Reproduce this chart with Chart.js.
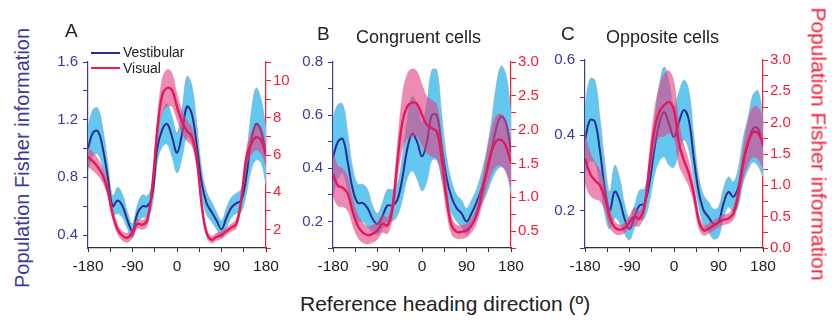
<!DOCTYPE html>
<html>
<head>
<meta charset="utf-8">
<script src="https://cdn.jsdelivr.net/npm/chart.js@4.4.1/dist/chart.umd.min.js"></script>
<style>
  body { margin: 0; width: 832px; height: 324px; overflow: hidden; position: relative; background: #fff;
         font-family: "Liberation Sans", Arial, sans-serif; }
  canvas { position: absolute; top: 0; }
  .t { position: absolute; white-space: nowrap; color: #222; }
  .lg { position: absolute; height: 2px; width: 29px; left: 91px; }
</style>
</head>
<body>
<canvas id="cA" width="268" height="290" style="left:43px"></canvas>
<canvas id="cB" width="268" height="290" style="left:288px"></canvas>
<canvas id="cC" width="268" height="290" style="left:540px"></canvas>

<div class="t" style="left:65px;top:21px;font-size:19px;line-height:19px">A</div>
<div class="t" style="left:317px;top:24px;font-size:19px;line-height:19px">B</div>
<div class="t" style="left:356px;top:28px;font-size:18px;line-height:18px">Congruent cells</div>
<div class="t" style="left:561px;top:24px;font-size:19px;line-height:19px">C</div>
<div class="t" style="left:606px;top:28px;font-size:18px;line-height:18px">Opposite cells</div>

<div class="lg" style="top:52px;background:#2b2d8c"></div>
<div class="t" style="left:123px;top:45px;font-size:14px;line-height:14px">Vestibular</div>
<div class="lg" style="top:67px;background:#ee1c4a"></div>
<div class="t" style="left:123px;top:61px;font-size:14px;line-height:14px">Visual</div>

<div class="t" style="left:22px;top:158px;font-size:20px;line-height:20px;color:#3a3a9c;transform:translate(-50%,-50%) rotate(-90deg)">Population Fisher information</div>
<div class="t" style="left:819px;top:144px;font-size:21px;line-height:21px;color:#f41c36;transform:translate(-50%,-50%) rotate(90deg)">Population Fisher information</div>
<div class="t" style="left:300px;top:293px;font-size:21px;line-height:21px">Reference heading direction (º)</div>

<script>
Chart.defaults.font.family = '"Liberation Sans", Arial, sans-serif';

const angles = [-180, -170, -160, -150, -140, -130, -120, -110, -100, -90, -80, -70, -60, -50, -40, -30, -20, -10,
  0, 10, 20, 30, 40, 50, 60, 70, 80, 90, 100, 110, 120, 130, 140, 150, 160, 170, 180];

const xTicks = [-180, -135, -90, -45, 0, 45, 90, 135, 180];
const xLabels = ['-180', '', '-90', '', '0', '', '90', '', '180'];

// A: all cells
const vesA = [1.00, 1.11, 1.12, 1.00, 0.80, 0.60, 0.64, 0.60, 0.50, 0.43, 0.55, 0.60, 0.60, 0.68, 1.00, 1.13, 1.17, 1.08,
  0.97, 1.10, 1.29, 1.24, 1.02, 0.76, 0.62, 0.56, 0.50, 0.44, 0.52, 0.59, 0.62, 0.64, 0.80, 1.05, 1.17, 1.12, 0.95];
const vesErrA = [0.15, 0.16, 0.16, 0.14, 0.10, 0.07, 0.09, 0.08, 0.06, 0.05, 0.06, 0.08, 0.07, 0.08, 0.10, 0.12, 0.14, 0.14,
  0.14, 0.17, 0.21, 0.20, 0.15, 0.10, 0.08, 0.07, 0.06, 0.06, 0.07, 0.07, 0.07, 0.08, 0.12, 0.20, 0.25, 0.22, 0.20];
const visA = [5.9, 5.65, 5.35, 4.9, 4.1, 2.8, 2.0, 1.65, 1.55, 1.8, 2.3, 2.25, 2.5, 4.3, 7.3, 9.2, 9.6, 9.5,
  8.6, 7.8, 7.3, 7.0, 5.8, 3.3, 1.8, 1.45, 1.6, 1.7, 1.9, 2.1, 2.3, 3.6, 5.8, 6.6, 6.95, 6.8, 6.0];
const visErrA = [0.5, 0.5, 0.45, 0.4, 0.35, 0.3, 0.25, 0.25, 0.25, 0.25, 0.25, 0.25, 0.3, 0.4, 0.6, 0.9, 1.0, 0.9,
  0.7, 0.6, 0.55, 0.5, 0.4, 0.3, 0.2, 0.2, 0.2, 0.2, 0.2, 0.2, 0.25, 0.3, 0.45, 0.6, 0.7, 0.75, 0.6];
const leftTicksA = [0.4, 0.6, 0.8, 1.0, 1.2, 1.4, 1.6];
const leftLabelsA = ['0.4', '', '0.8', '', '1.2', '', '1.6'];
const rightTicksA = [1, 2, 3, 4, 5, 6, 7, 8, 9, 10, 11];
const rightLabelsA = ['', '2', '', '4', '', '6', '', '8', '', '10', ''];

// B: congruent cells
const vesB = [0.44, 0.50, 0.51, 0.42, 0.32, 0.27, 0.27, 0.25, 0.21, 0.19, 0.22, 0.26, 0.26, 0.28, 0.36, 0.47, 0.53, 0.50,
  0.445, 0.50, 0.60, 0.60, 0.48, 0.36, 0.29, 0.25, 0.23, 0.20, 0.23, 0.27, 0.32, 0.38, 0.46, 0.55, 0.595, 0.57, 0.46];
const vesErrB = [0.15, 0.14, 0.13, 0.11, 0.08, 0.07, 0.07, 0.07, 0.05, 0.04, 0.05, 0.06, 0.06, 0.06, 0.08, 0.11, 0.14, 0.14,
  0.13, 0.15, 0.17, 0.17, 0.12, 0.08, 0.06, 0.05, 0.05, 0.05, 0.05, 0.05, 0.06, 0.08, 0.11, 0.16, 0.19, 0.18, 0.16];
const visB = [1.34, 1.17, 1.14, 1.05, 0.78, 0.58, 0.48, 0.44, 0.46, 0.51, 0.61, 0.58, 0.83, 1.51, 2.10, 2.34, 2.40, 2.38,
  2.22, 2.07, 2.02, 1.97, 1.56, 0.97, 0.58, 0.49, 0.49, 0.51, 0.58, 0.73, 1.02, 1.36, 1.66, 1.83, 1.85, 1.75, 1.51];
const visErrB = [0.33, 0.3, 0.28, 0.25, 0.2, 0.17, 0.15, 0.13, 0.13, 0.13, 0.13, 0.12, 0.15, 0.25, 0.4, 0.48, 0.5, 0.48,
  0.45, 0.42, 0.42, 0.4, 0.3, 0.2, 0.13, 0.1, 0.1, 0.1, 0.1, 0.12, 0.17, 0.25, 0.33, 0.38, 0.38, 0.38, 0.35];
const leftTicksB = [0.1, 0.2, 0.3, 0.4, 0.5, 0.6, 0.7, 0.8];
const leftLabelsB = ['', '0.2', '', '0.4', '', '0.6', '', '0.8'];
const rightTicksB = [0.25, 0.5, 0.75, 1.0, 1.25, 1.5, 1.75, 2.0, 2.25, 2.5, 2.75, 3.0];
const rightLabelsB = ['', '0.5', '', '1.0', '', '1.5', '', '2.0', '', '2.5', '', '3.0'];

// C: opposite cells
const vesC = [0.387, 0.44, 0.436, 0.36, 0.26, 0.20, 0.25, 0.227, 0.178, 0.151, 0.182, 0.213, 0.218, 0.27, 0.36, 0.43, 0.462, 0.43,
  0.395, 0.435, 0.467, 0.44, 0.34, 0.25, 0.20, 0.182, 0.164, 0.169, 0.218, 0.249, 0.236, 0.262, 0.333, 0.378, 0.418, 0.418, 0.369];
const vesErrC = [0.09, 0.11, 0.11, 0.09, 0.07, 0.05, 0.07, 0.06, 0.04, 0.03, 0.03, 0.04, 0.04, 0.05, 0.07, 0.10, 0.12, 0.11,
  0.08, 0.08, 0.08, 0.08, 0.06, 0.04, 0.04, 0.04, 0.04, 0.04, 0.04, 0.04, 0.04, 0.05, 0.06, 0.07, 0.09, 0.10, 0.08];
const visC = [1.43, 1.19, 1.08, 1.0, 0.81, 0.49, 0.33, 0.29, 0.32, 0.41, 0.50, 0.47, 0.65, 1.29, 1.88, 2.17, 2.28, 2.33,
  2.2, 1.67, 1.40, 1.19, 0.87, 0.44, 0.28, 0.31, 0.36, 0.41, 0.45, 0.47, 0.55, 0.87, 1.35, 1.69, 1.85, 1.83, 1.67];
const visErrC = [0.4, 0.35, 0.3, 0.25, 0.2, 0.15, 0.1, 0.08, 0.08, 0.1, 0.15, 0.12, 0.12, 0.2, 0.3, 0.4, 0.5, 0.5,
  0.45, 0.35, 0.25, 0.2, 0.15, 0.12, 0.08, 0.08, 0.08, 0.08, 0.08, 0.08, 0.1, 0.15, 0.25, 0.35, 0.4, 0.42, 0.4];
const leftTicksC = [0.1, 0.2, 0.3, 0.4, 0.5, 0.6];
const leftLabelsC = ['', '0.2', '', '0.4', '', '0.6'];
const rightTicksC = [0, 0.25, 0.5, 0.75, 1.0, 1.25, 1.5, 1.75, 2.0, 2.25, 2.5, 2.75, 3.0];
const rightLabelsC = ['0.0', '', '0.5', '', '1.0', '', '1.5', '', '2.0', '', '2.5', '', '3.0'];

const NAVY = '#2b2d8c';
const SKY = 'rgb(98,200,240)';
const RED = '#e8175a';
const PINK = 'rgba(226,62,132,0.6)';
const BLUEAXIS = '#3a3a9c';
const REDAXIS = '#f41c36';

function pts(vals, err, sign) {
  return angles.map((a, i) => ({ x: a, y: vals[i] + sign * (err ? err[i] : 0) }));
}

function fixTicks(values) {
  return function (scale) { scale.ticks = values.map(v => ({ value: v })); };
}

function makePanel(id, top, p) {
  new Chart(document.getElementById(id), {
    type: 'line',
    data: {
      datasets: [
        { data: pts(p.vis, null, 0), yAxisID: 'y2', borderColor: RED, borderWidth: 2.4, order: 0 },
        { data: pts(p.vis, p.visErr, 1), yAxisID: 'y2', borderColor: 'rgba(200,120,150,0.5)', borderWidth: 0.6,
          backgroundColor: PINK, fill: 2, order: 1 },
        { data: pts(p.vis, p.visErr, -1), yAxisID: 'y2', borderColor: 'rgba(200,120,150,0.5)', borderWidth: 0.6, order: 1 },
        { data: pts(p.ves, null, 0), yAxisID: 'y', borderColor: NAVY, borderWidth: 2, order: 2 },
        { data: pts(p.ves, p.vesErr, 1), yAxisID: 'y', borderColor: 'rgba(150,165,180,0.7)', borderWidth: 0.8,
          backgroundColor: SKY, fill: 5, order: 3 },
        { data: pts(p.ves, p.vesErr, -1), yAxisID: 'y', borderColor: 'rgba(150,165,180,0.7)', borderWidth: 0.8, order: 3 }
      ]
    },
    options: {
      responsive: false,
      animation: false,
      layout: { padding: { top: top, left: 0, right: 0, bottom: 0 } },
      plugins: { legend: { display: false }, tooltip: { enabled: false } },
      elements: { point: { radius: 0 }, line: { tension: 0.4, fill: false } },
      scales: {
        x: {
          type: 'linear', min: -180, max: 180,
          afterBuildTicks: fixTicks(xTicks),
          afterFit: s => { s.height = 42; },
          border: { color: '#333', width: 1.2 },
          grid: { drawOnChartArea: false, color: '#333', tickLength: 4 },
          ticks: { autoSkip: false, maxRotation: 0, padding: 5, color: '#222', font: { size: 15.5 },
                   callback: (v, i) => xLabels[i] }
        },
        y: {
          position: 'left', min: p.lMin, max: p.lMax,
          afterBuildTicks: fixTicks(p.lTicks),
          afterFit: s => { s.width = 45; },
          border: { color: BLUEAXIS, width: 1.2 },
          grid: { drawOnChartArea: false, color: BLUEAXIS, tickLength: 5 },
          ticks: { autoSkip: false, padding: 5, color: BLUEAXIS, font: { size: 15 },
                   callback: (v, i) => p.lLabels[i] }
        },
        y2: {
          position: 'right', min: p.rMin, max: p.rMax,
          afterBuildTicks: fixTicks(p.rTicks),
          afterFit: s => { s.width = 45; },
          border: { color: REDAXIS, width: 1.2 },
          grid: { drawOnChartArea: false, color: REDAXIS, tickLength: 5 },
          ticks: { autoSkip: false, padding: 2, color: REDAXIS, font: { size: 15 },
                   callback: (v, i) => p.rLabels[i] }
        }
      }
    }
  });
}

makePanel('cA', 62, { ves: vesA, vesErr: vesErrA, vis: visA, visErr: visErrA,
  lMin: 0.31, lMax: 1.6, lTicks: leftTicksA, lLabels: leftLabelsA,
  rMin: 1.0, rMax: 11, rTicks: rightTicksA, rLabels: rightLabelsA });
makePanel('cB', 62, { ves: vesB, vesErr: vesErrB, vis: visB, visErr: visErrB,
  lMin: 0.1, lMax: 0.8, lTicks: leftTicksB, lLabels: leftLabelsB,
  rMin: 0.25, rMax: 3.0, rTicks: rightTicksB, rLabels: rightLabelsB });
makePanel('cC', 60, { ves: vesC, vesErr: vesErrC, vis: visC, visErr: visErrC,
  lMin: 0.1, lMax: 0.6, lTicks: leftTicksC, lLabels: leftLabelsC,
  rMin: 0, rMax: 3.0, rTicks: rightTicksC, rLabels: rightLabelsC });
</script>
</body>
</html>
